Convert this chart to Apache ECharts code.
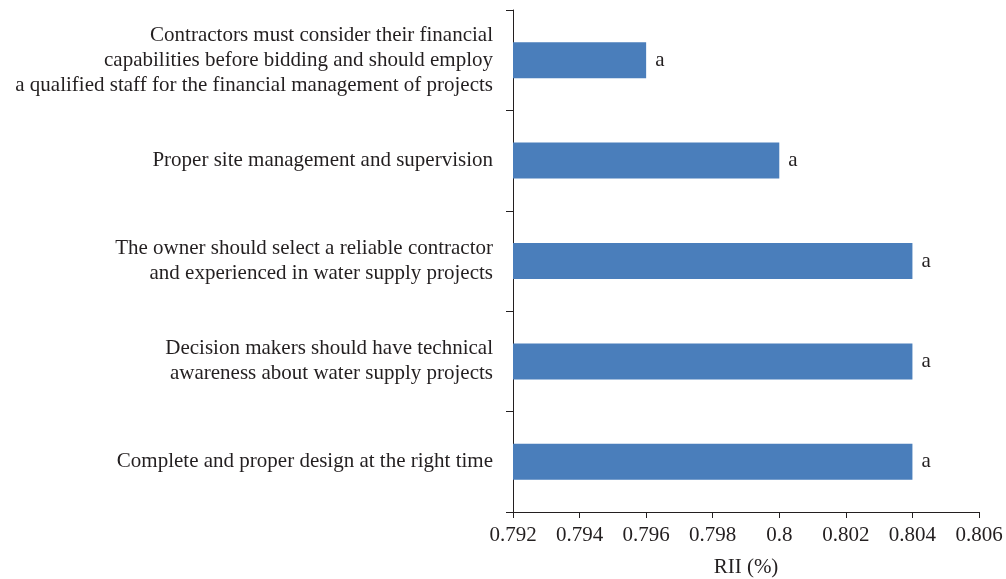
<!DOCTYPE html>
<html><head><meta charset="utf-8">
<script src="https://cdn.jsdelivr.net/npm/echarts@6/dist/echarts.min.js"></script>
<style>html,body{margin:0;padding:0;background:#fff}#c{width:1006px;height:579px}</style>
</head><body><div id="c"></div>
<script>
const categories = [
  "Complete and proper design at the right time",
  "Decision makers should have technical\nawareness about water supply projects",
  "The owner should select a reliable contractor\nand experienced in water supply projects",
  "Proper site management and supervision",
  "Contractors must consider their financial\ncapabilities before bidding and should employ\na qualified staff for the financial management of projects"
];
const rii = [0.804, 0.804, 0.804, 0.800, 0.796];
const barLabels = ["a", "a", "a", "a", "a"];
const xTicks = [0.792, 0.794, 0.796, 0.798, 0.8, 0.802, 0.804, 0.806];

const FONT = "Liberation Serif";
const TXT = "#231f20";
const chart = echarts.init(document.getElementById('c'), null, {renderer: 'canvas'});
chart.setOption({
  backgroundColor: '#fff',
  animation: false,
  grid: {left: 513, right: 27, top: 10, bottom: 67, containLabel: false, outerBoundsMode: 'none'},
  xAxis: {
    type: 'value', min: 0.792, max: 0.806, interval: 0.002,
    name: 'RII (%)', nameLocation: 'middle', nameGap: 45,
    nameTextStyle: {fontFamily: FONT, fontSize: 21, color: TXT},
    axisLine: {show: true, lineStyle: {color: '#231f20', width: 1}},
    axisTick: {show: true, length: 6, lineStyle: {color: '#231f20'}},
    splitLine: {show: false},
    axisLabel: {fontFamily: FONT, fontSize: 21, color: TXT, margin: 13,
      formatter: v => { const t = xTicks.find(x => Math.abs(x - v) < 1e-9); return t === undefined ? '' : String(t); }}
  },
  yAxis: {
    type: 'category', data: categories,
    axisLine: {show: true, lineStyle: {color: '#231f20', width: 1}},
    axisTick: {show: true, length: 7, alignWithLabel: false, lineStyle: {color: '#231f20'}},
    axisLabel: {fontFamily: FONT, fontSize: 21, color: TXT, margin: 20, align: 'right', lineHeight: 25},
    splitLine: {show: false}
  },
  series: [{
    type: 'bar', data: rii, barWidth: 36,
    itemStyle: {color: '#4a7ebb'},
    label: {show: true, position: 'right', distance: 9, fontFamily: FONT, fontSize: 21, color: TXT,
      formatter: p => barLabels[p.dataIndex]}
  }]
});
</script></body></html>
